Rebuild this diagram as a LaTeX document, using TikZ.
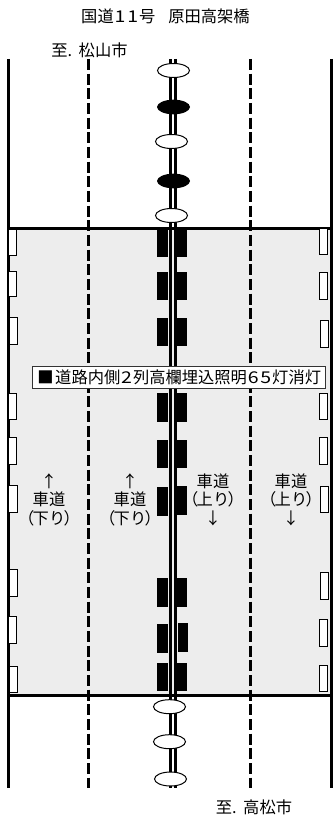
\documentclass[tikz,border=0pt]{standalone}
\usepackage{fontspec}
\setmainfont{Noto Sans CJK JP}
\newfontfamily\dgfont[FakeStretch=1.2]{Noto Sans CJK JP}
\newcommand{\txtsize}{\fontsize{12.2pt}{14pt}\selectfont}
\newcommand{\dg}[1]{\makebox[0.78em]{\dgfont #1}}
\newcommand{\pl}{\kern-0.1em}
\tikzset{
  x=0.75pt,y=-0.75pt,
  road/.style={line width=2.3pt},
  edge/.style={line width=2.25pt},
  lane/.style={line width=2.2pt,dash pattern=on 8.2pt off 2.8pt},
  median/.style={line width=2.5pt},
  post/.style={draw=black,fill=white,line width=0.75pt},
  postblack/.style={draw=black,fill=black,line width=0.5pt},
  lbl/.style={inner sep=0pt,font=\txtsize,align=center}
}
\begin{document}
\begin{tikzpicture}
\useasboundingbox (0,0) rectangle (333,830);
\fill[white] (0,0) rectangle (333,830);
\fill[black!7] (8,228) rectangle (331,695);
% road lines
\draw[edge] (8.5,59) -- (8.5,788);
\draw[edge] (331.5,59) -- (331.5,788);
\draw[lane] (88.5,59) -- (88.5,788);
\draw[lane] (250.5,59) -- (250.5,788);
\draw[road] (8,228.5) -- (331,228.5);
\draw[road] (8,695.3) -- (331,695.3);
% black blocks
\foreach \a/\b/\c/\d in {157.5/167/229/256,176/186.5/229/256,
 157.5/167/272/299,176/186.5/272/299,
 157.5/167/318.3/345.7,176/186.5/318.3/345.7,
 157.5/167/393.3/421,176/186.5/393.3/421,
 157.5/167/440/467,176/186.5/440/467,
 157.5/167/487.3/515,176/186.5/486.3/514,
 157.5/167/578.7/606.7,176/186.5/578.7/606.7,
 157.5/167/624.3/652.3,178/187/623.3/651.3,
 157.5/167/663.7/690.3,176/186.5/663.7/690.3}
  \draw[postblack] (\a,\c) rectangle (\b,\d);
% median
\draw[median] (170.7,59) -- (170.7,788);
\draw[median] (175.7,59) -- (175.7,788);
% white posts
\foreach \a/\b/\c/\d in {8/16/229.5/256,8/16.5/271/296,9/17.5/317.3/344,8/16.5/393/419,8/16.5/437/464,8.5/17.5/485.7/512,9/17.5/569/596,8/16.5/616/643,9/17.5/666/692,
 319/327/228.5/255,319/327/272/299,320/328/320/347,319/327/393/419,319/327/437/464,320/328/486/512,320/328/572/599,319/327/619/646,319/327/665/691}
  \draw[post] (\a,\c) rectangle (\b,\d);
% ellipses
\foreach \x/\y in {173.5/70.5,171.5/141.5,171.5/215.5,169.5/706.7,169.5/741.7,170.5/779}
  \draw[post] (\x,\y) ellipse [x radius=16,y radius=7];
\foreach \x/\y in {173.5/107,173.5/181}
  \fill (\x,\y) ellipse [x radius=16.5,y radius=7.3];
% label
\node[draw=black!80,fill=white,line width=0.6pt,minimum width=220pt,minimum height=17pt,inner sep=0pt,font=\txtsize] (note) at (179.2,377.3) {■\kern0.1em 道路内側\dg{2}列高欄埋込照明\dg{6}\dg{5}灯消灯};
% texts
\node[lbl] (title) at (165.5,16) {国道\dg{1}\dg{1}号\hspace{0.8em}原田高架橋};
\node[lbl] (north) at (89.5,50) {至.\hspace{0.4em}松山市};
\node[lbl] (south) at (254,807) {至.\hspace{0.4em}高松市};
\node[lbl] (a1) at (49,481) {↑};
\node[lbl] (a2) at (49,499.6) {車道};
\node[lbl] (a3) at (49,518) {（\pl 下り\pl ）};
\node[lbl] (b1) at (130,481) {↑};
\node[lbl] (b2) at (130,499.6) {車道};
\node[lbl] (b3) at (130,518) {（\pl 下り\pl ）};
\node[lbl] (c1) at (213,481) {車道};
\node[lbl] (c2) at (213,499.6) {（\pl 上り\pl ）};
\node[lbl] (c3) at (213,518) {↓};
\node[lbl] (d1) at (291,481) {車道};
\node[lbl] (d2) at (291,499.6) {（\pl 上り\pl ）};
\node[lbl] (d3) at (291,518) {↓};
\end{tikzpicture}
\end{document}
